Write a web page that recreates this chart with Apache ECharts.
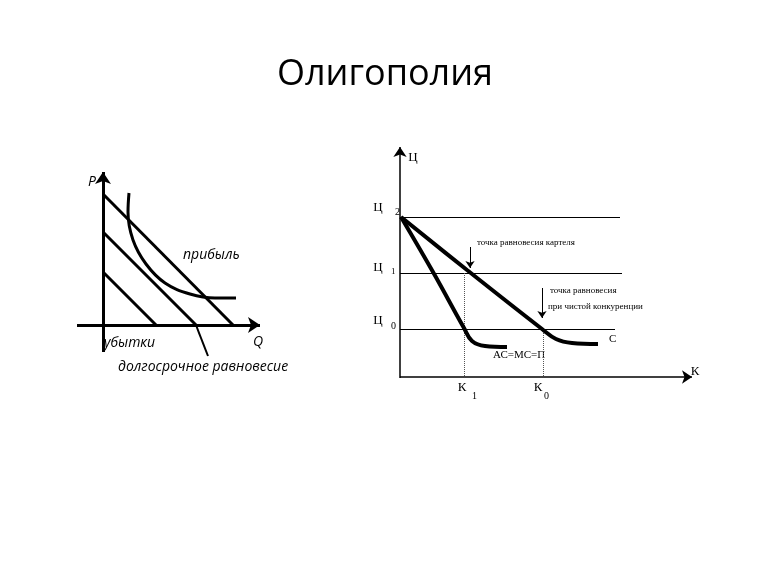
<!DOCTYPE html><html><head><meta charset="utf-8">
<script src="https://cdn.jsdelivr.net/npm/echarts@6/dist/echarts.min.js"></script>
<style>html,body{margin:0;background:#fff}#c{width:770px;height:577px}</style></head><body><div id="c"></div>
<script>
// Left diagram (coordinates)
const leftAxes = [[[103,352],[103,172]],[[77,325],[260,325]]];
const leftDemand = [[[103,194],[233,325]],[[103,232],[196,325]],[[103,272],[156,325]]];
const leftCurve = [[129,193],[128,212],[133,240],[146,264],[165,283],[190,294],[215,298],[236,298]];
const leftPointer = [[196,325],[201,338],[208,356]];
// Right diagram
const rightAxes = [[[400,378],[400,147]],[[400,377],[692,377]]];
const priceLevels = [[[400,217],[620,217]],[[400,273],[622,273]],[[400,329],[615,329]]];
const cartelLine = [[401,217],[467,270],[542,329],[556,339],[572,343],[598,344]];
const steepLine = [[401,217],[433,272],[464,328],[472,341],[485,346],[507,347]];
const dotted = [[[464,273],[464,377]],[[543,329],[543,377]]];
const arrows = [[[470,247],[470,268]],[[542,288],[542,318]]];
const texts = [
 {t:'Олигополия',x:385,y:75,s:36,f:'Open Sans',a:'center'},
 {t:'P',x:92,y:182,s:14,f:'Open Sans',i:1,a:'center'},
 {t:'прибыль',x:183,y:255,s:14,f:'Open Sans',i:1},
 {t:'убытки',x:104,y:343,s:14,f:'Open Sans',i:1},
 {t:'Q',x:253,y:342,s:14,f:'Open Sans',i:1},
 {t:'долгосрочное равновесие',x:118,y:367,s:14,f:'Open Sans',i:1},
 {t:'Ц',x:413,y:158,s:13,f:'Liberation Serif',a:'center'},
 {t:'Ц',x:378,y:208,s:13,f:'Liberation Serif',a:'center'},{t:'2',x:395,y:212,s:10,f:'Liberation Serif'},
 {t:'Ц',x:378,y:268,s:13,f:'Liberation Serif',a:'center'},{t:'1',x:391,y:272,s:9,f:'Liberation Serif'},
 {t:'Ц',x:378,y:321,s:13,f:'Liberation Serif',a:'center'},{t:'0',x:391,y:326,s:10,f:'Liberation Serif'},
 {t:'К',x:695,y:372,s:13,f:'Liberation Serif',a:'center'},
 {t:'К',x:462,y:388,s:13,f:'Liberation Serif',a:'center'},{t:'1',x:472,y:396,s:10,f:'Liberation Serif'},
 {t:'К',x:538,y:388,s:13,f:'Liberation Serif',a:'center'},{t:'0',x:544,y:396,s:10,f:'Liberation Serif'},
 {t:'точка равновесия картеля',x:477,y:243,s:9,f:'Liberation Serif'},
 {t:'точка равновесия',x:550,y:291,s:9,f:'Liberation Serif'},
 {t:'при чистой конкуренции',x:548,y:307,s:9,f:'Liberation Serif'},
 {t:'С',x:609,y:339,s:11,f:'Liberation Serif'},
 {t:'АС=МС=П',x:493,y:355,s:11,f:'Liberation Serif'}
];
const seg = (arr)=>arr.map(c=>({coords:c}));
const chart = echarts.init(document.getElementById('c'));
const L = (data,w,extra)=>Object.assign({type:'lines',coordinateSystem:'cartesian2d',data:seg(data),lineStyle:{color:'#000',width:w,opacity:1},symbol:'none',silent:true},extra||{});
const C = (data,w)=>({type:'line',data:data,smooth:0.4,symbol:'none',lineStyle:{color:'#000',width:w},silent:true});
chart.setOption({
 animation:false,
 grid:{left:0,right:0,top:0,bottom:0},
 xAxis:{type:'value',min:0,max:770,show:false},
 yAxis:{type:'value',min:0,max:577,inverse:true,show:false},
 series:[
  L(leftAxes,3,{symbol:['none','arrow'],symbolSize:12}),
  L(leftDemand,3),
  C(leftCurve,3),
  C(leftPointer,2),
  L(rightAxes,1.5,{symbol:['none','arrow'],symbolSize:10}),
  L(priceLevels,1),
  C(cartelLine,4),
  C(steepLine,4),
  L(dotted,1,{lineStyle:{color:'#555',width:1,type:'dotted',opacity:1}}),
  L(arrows,1,{symbol:['none','arrow'],symbolSize:7})
 ],
 graphic:texts.map(o=>({type:'text',x:o.x,y:o.y,style:{text:o.t,fill:'#000',font:(o.i?'italic ':'')+o.s+'px "'+o.f+'"',textAlign:o.a||'left',textVerticalAlign:'middle'}}))
});
</script></body></html>
